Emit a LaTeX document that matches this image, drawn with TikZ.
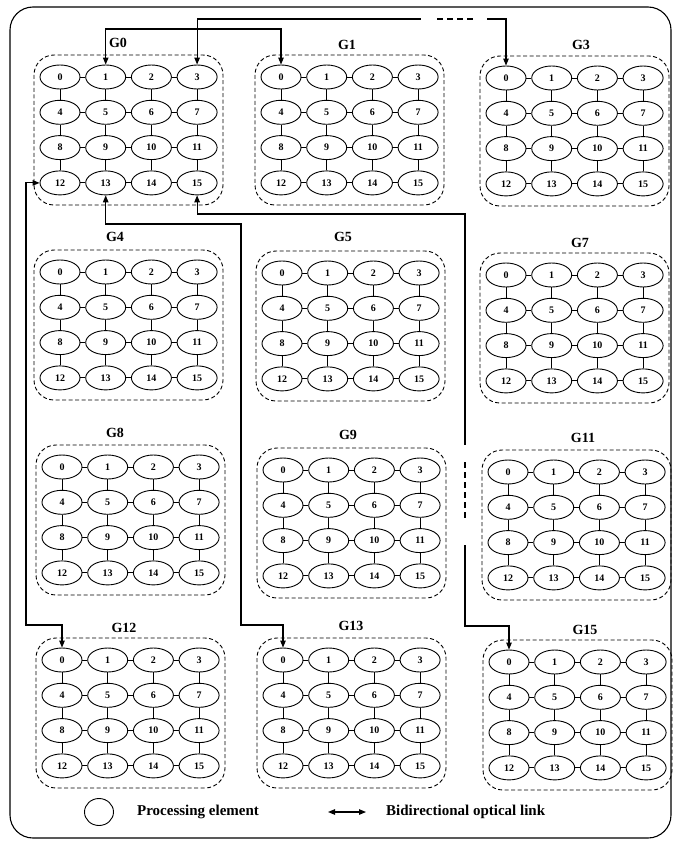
\documentclass[tikz,border=0pt]{standalone}
\usepackage{fontspec}
\setmainfont{Liberation Serif}
\usetikzlibrary{arrows.meta,shapes.geometric,positioning}

\tikzset{
  pe/.style={ellipse, draw, line width=0.9pt, minimum width=40pt, minimum height=24pt, inner sep=0pt, font=\bfseries\fontsize{10}{10}\selectfont},
  meshlink/.style={line width=0.9pt},
  groupbox/.style={draw, dash pattern=on 4pt off 2.5pt, rounded corners=20pt, line width=0.9pt},
  grouplabel/.style={font=\bfseries\fontsize{14}{14}\selectfont},
  legendtext/.style={font=\bfseries\fontsize{15}{15}\selectfont, inner sep=2pt},
  optline/.style={line width=1.1pt},
  optlink/.style={optline, {Triangle[length=7pt,width=5.5pt]}-{Triangle[length=7pt,width=5.5pt]}},
  optend/.style={optline, -{Triangle[length=7pt,width=5.5pt]}},
  optstart/.style={optline, {Triangle[length=7pt,width=5.5pt]}-},
  optgap/.style={optline, dash pattern=on 6pt off 4pt},
}

% one 4x4 mesh of processing elements: name, x and y of PE 0, label position
\newcommand{\pegroup}[5]{%
  \foreach \r in {0,...,3}{
    \foreach \c in {0,...,3}{
      \pgfmathtruncatemacro{\k}{4*\r+\c}
      \node[pe] (#1-\k) at ({#2+45.7*\c},{#3+35.3*\r}) {\k};
    }
  }
  \foreach \r in {0,...,3}{
    \foreach \c in {0,1,2}{
      \pgfmathtruncatemacro{\a}{4*\r+\c}
      \pgfmathtruncatemacro{\b}{4*\r+\c+1}
      \draw[meshlink] (#1-\a.east) -- (#1-\b.west);
    }
  }
  \foreach \r in {0,1,2}{
    \foreach \c in {0,...,3}{
      \pgfmathtruncatemacro{\a}{4*\r+\c}
      \pgfmathtruncatemacro{\b}{4*\r+\c+4}
      \draw[meshlink] (#1-\a.south) -- (#1-\b.north);
    }
  }
  \draw[groupbox] ({#2-26},{#3-22}) rectangle ({#2+163},{#3+128});
  \node[grouplabel] (#1-label) at (#4,#5) {#1};
}

\begin{document}
\begin{tikzpicture}[x=1pt, y=-1pt]
\useasboundingbox (0,0) rectangle (672,845);
\draw[line width=1.1pt, rounded corners=23pt] (10,7) rectangle (671,838);

% groups
\pegroup{G0}{60}{77}{118}{43}
\pegroup{G1}{281}{77}{347}{45}
\pegroup{G3}{506}{78}{581}{45}
\pegroup{G4}{60}{272}{115}{237}
\pegroup{G5}{282}{273}{343}{237}
\pegroup{G7}{506}{275}{580}{243}
\pegroup{G8}{62}{467}{115}{433}
\pegroup{G9}{283}{470}{348}{435}
\pegroup{G11}{508}{472}{583}{438}
\pegroup{G12}{62}{660}{124}{628}
\pegroup{G13}{283}{660}{351}{626}
\pegroup{G15}{509}{662}{585}{630}

% bus coordinates
\coordinate (topbus) at (0,29);
\coordinate (gapA) at (421,19);
\coordinate (gapB) at (437,19);
\coordinate (gapC) at (473,19);
\coordinate (gapD) at (487,19);
\coordinate (leftbus) at (26,625);
\coordinate (midtop) at (241,224);
\coordinate (midbot) at (241,625);
\coordinate (righttop) at (465,214);
\coordinate (gapE) at (465,445);
\coordinate (gapF) at (465,462);
\coordinate (gapG) at (465,520);
\coordinate (gapH) at (465,545);
\coordinate (rightbot) at (465,626);

% optical links
\draw[optlink] (G0-1.north) |- (topbus -| G1-0.north) -- (G1-0.north);
\draw[optstart] (G0-3.north) |- (gapA);
\draw[optgap] (gapB) -- (gapC);
\draw[optend] (gapD) -| (G3-0.north);
\draw[optlink] (G0-12.west) -| (leftbus) -| (G12-0.north);
\draw[optlink] (G0-13.south) |- (midtop) -- (midbot) -| (G13-0.north);
\draw[optstart] (G0-15.south) |- (righttop) -- (gapE);
\draw[optgap] (gapF) -- (gapG);
\draw[optend] (gapH) -- (rightbot) -| (G15-0.north);

% legend
\node[ellipse, draw, line width=0.9pt, minimum width=29pt, minimum height=27pt] (legpe) at (99,812) {};
\node[legendtext, right=21pt of legpe] (legpetext) {Processing element};
\coordinate (legA) at (328,812);
\coordinate (legB) at (366,812);
\draw[optlink] (legA) -- (legB);
\node[legendtext, right=18pt of legB] (leglinktext) {Bidirectional optical link};
\end{tikzpicture}
\end{document}
